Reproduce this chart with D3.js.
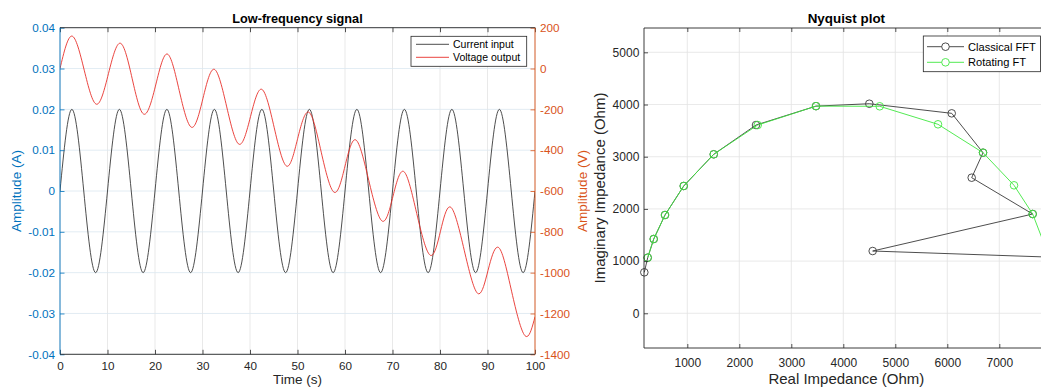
<!DOCTYPE html>
<html>
<head>
<meta charset="utf-8">
<script src="https://cdn.jsdelivr.net/npm/d3@7"></script>
<style>
  html, body { margin: 0; padding: 0; background: #fff; }
  svg { display: block; font-family: "Liberation Sans", Arial, Helvetica, sans-serif; }
</style>
</head>
<body>
<svg id="chart" width="1041" height="387"></svg>
<script>
// ---------- Data: left chart (Low-frequency signal) ----------
const timeCurrent = [0, 2.5, 5, 7.5, 10, 12.5, 15, 17.5, 20, 22.5, 25, 27.5, 30, 32.5, 35, 37.5, 40, 42.5, 45, 47.5,
  50, 52.5, 55, 57.5, 60, 62.5, 65, 67.5, 70, 72.5, 75, 77.5, 80, 82.5, 85, 87.5, 90, 92.5, 95, 97.5, 100];
const currentInput = [0, 0.02, 0, -0.02, 0, 0.02, 0, -0.02, 0, 0.02, 0, -0.02, 0, 0.02, 0, -0.02, 0, 0.02, 0, -0.02,
  0, 0.02, 0, -0.02, 0, 0.02, 0, -0.02, 0, 0.02, 0, -0.02, 0, 0.02, 0, -0.02, 0, 0.02, 0, -0.02, 0];
const timeVoltage = [0, 2.5, 5.1, 7.7, 10.2, 12.7, 15.2, 17.7, 20.2, 22.6, 25.1, 27.7, 30.1, 32.5, 35.1, 37.7, 40.1, 42.5,
  45.1, 47.7, 50.0, 52.4, 55.0, 57.7, 60.0, 62.3, 65.0, 67.8, 70.1, 72.4, 75.1, 77.9, 80.1, 82.3, 85.1, 87.9, 90.1, 92.4,
  95.1, 97.9, 100];
const voltageOutput = [0, 159, -8, -175, -25, 124, -50, -224, -76, 71, -108, -288, -146, -4, -188, -371, -236, -102,
  -290, -478, -346, -214, -410, -606, -478, -350, -548, -747, -626, -505, -710, -914, -797, -680, -890, -1101, -990, -878,
  -1094, -1309, -1216];
const timeTicks = [0, 10, 20, 30, 40, 50, 60, 70, 80, 90, 100];
const ampTicks = [-0.04, -0.03, -0.02, -0.01, 0, 0.01, 0.02, 0.03, 0.04];
const voltTicks = [-1400, -1200, -1000, -800, -600, -400, -200, 0, 200];
const leftSeriesNames = ["Current input", "Voltage output"];

// ---------- Data: right chart (Nyquist plot) ----------
const classicalRe = [173, 238, 354, 571, 931, 1508, 2321, 3475, 4500, 6085, 6687, 6469, 7642, 4565, 8150];
const classicalIm = [785, 1065, 1423, 1883, 2439, 3046, 3607, 3969, 4015, 3831, 3077, 2598, 1902, 1193, 1070];
const rotatingRe = [238, 354, 571, 931, 1508, 2354, 3475, 4700, 5821, 6687, 7283, 7642, 7990];
const rotatingIm = [1065, 1423, 1883, 2439, 3046, 3607, 3969, 3966, 3621, 3077, 2452, 1902, 1000];
const reTicks = [1000, 2000, 3000, 4000, 5000, 6000, 7000];
const imTicks = [0, 1000, 2000, 3000, 4000, 5000];
const rightSeriesNames = ["Classical FFT", "Rotating FT"];

// ---------- Styles ----------
const AX = "#262626", BLUE = "#0072BD", ORANGE = "#D95319";
const GRID = "#e3e3e3", GRIDB = "#dbe7f0";
const C_BLACK = "#3a3a3a", C_RED = "#e8302a", C_GREEN = "#40e840";

const svg = d3.select("#chart");

function styleAxis(g, color, fontSize) {
  g.select(".domain").remove();
  g.selectAll(".tick line").attr("stroke", color).attr("stroke-width", 0.8);
  g.selectAll(".tick text").attr("fill", color).style("font-size", fontSize + "px").attr("font-family", "Liberation Sans, Arial, sans-serif");
}

// ================= LEFT CHART =================
{
  const L = 60, R = 535, T = 27.7, B = 354.3;
  const x = d3.scaleLinear().domain([0, 100]).range([L, R]);
  const yL = d3.scaleLinear().domain([-0.04, 0.04]).range([B, T]);
  const yR = d3.scaleLinear().domain([-1400, 200]).range([B, T]);
  const g = svg.append("g");

  // grid
  g.append("g").selectAll("line").data(timeTicks).join("line")
    .attr("x1", d => x(d)).attr("x2", d => x(d)).attr("y1", T).attr("y2", B)
    .attr("stroke", GRID).attr("stroke-width", 0.8);
  g.append("g").selectAll("line").data(ampTicks).join("line")
    .attr("x1", L).attr("x2", R).attr("y1", d => yL(d)).attr("y2", d => yL(d))
    .attr("stroke", GRIDB).attr("stroke-width", 0.8);

  // clip
  svg.append("clipPath").attr("id", "clipL").append("rect").attr("x", L).attr("y", T).attr("width", R - L).attr("height", B - T);

  const cur = timeCurrent.map((t, i) => [t, currentInput[i]]);
  const vol = timeVoltage.map((t, i) => [t, voltageOutput[i]]);
  g.append("path").datum(cur).attr("clip-path", "url(#clipL)")
    .attr("d", d3.line().x(d => x(d[0])).y(d => yL(d[1])).curve(d3.curveNatural))
    .attr("fill", "none").attr("stroke", C_BLACK).attr("stroke-width", 0.9);
  g.append("path").datum(vol).attr("clip-path", "url(#clipL)")
    .attr("d", d3.line().x(d => x(d[0])).y(d => yR(d[1])).curve(d3.curveNatural))
    .attr("fill", "none").attr("stroke", C_RED).attr("stroke-width", 0.9);

  // axes
  const fs = 11.7;
  const ax = g.append("g").attr("transform", `translate(0,${B})`)
    .call(d3.axisBottom(x).tickValues(timeTicks).tickSize(-4.5).tickPadding(7).tickSizeOuter(0));
  styleAxis(ax, AX, fs);
  const axTop = g.append("g").attr("transform", `translate(0,${T})`)
    .call(d3.axisTop(x).tickValues(timeTicks).tickSize(-4.5).tickSizeOuter(0).tickFormat(""));
  styleAxis(axTop, AX, fs);
  const ayl = g.append("g").attr("transform", `translate(${L},0)`)
    .call(d3.axisLeft(yL).tickValues(ampTicks).tickSize(-4.5).tickPadding(5).tickSizeOuter(0)
      .tickFormat(d => d === 0 ? "0" : d3.format(".2f")(d).replace("−", "-")));
  styleAxis(ayl, BLUE, fs);
  const ayr = g.append("g").attr("transform", `translate(${R},0)`)
    .call(d3.axisRight(yR).tickValues(voltTicks).tickSize(-4.5).tickPadding(5).tickSizeOuter(0)
      .tickFormat(d => String(d)));
  styleAxis(ayr, ORANGE, fs);

  g.append("line").attr("x1", L).attr("x2", R).attr("y1", B).attr("y2", B).attr("stroke", AX).attr("stroke-width", 0.9);
  g.append("line").attr("x1", L).attr("x2", R).attr("y1", T).attr("y2", T).attr("stroke", AX).attr("stroke-width", 0.9);
  g.append("line").attr("x1", L).attr("x2", L).attr("y1", T).attr("y2", B).attr("stroke", BLUE).attr("stroke-width", 0.9);
  g.append("line").attr("x1", R).attr("x2", R).attr("y1", T).attr("y2", B).attr("stroke", ORANGE).attr("stroke-width", 0.9);

  // titles / labels
  g.append("text").attr("x", (L + R) / 2).attr("y", 22.7).attr("text-anchor", "middle")
    .attr("font-weight", "bold").style("font-size", "12.7px").attr("fill", "#000").text("Low-frequency signal");
  g.append("text").attr("x", (L + R) / 2).attr("y", 383.8).attr("text-anchor", "middle")
    .style("font-size", "13.5px").attr("fill", AX).text("Time (s)");
  g.append("text").attr("transform", `translate(21,${(T + B) / 2}) rotate(-90)`).attr("text-anchor", "middle")
    .style("font-size", "13.5px").attr("fill", BLUE).text("Amplitude (A)");
  g.append("text").attr("transform", `translate(587,${(T + B) / 2}) rotate(-90)`).attr("text-anchor", "middle")
    .style("font-size", "13.5px").attr("fill", ORANGE).text("Amplitude (V)");

  // legend
  const lg = g.append("g");
  lg.append("rect").attr("x", 411).attr("y", 36.3).attr("width", 115.7).attr("height", 30)
    .attr("fill", "#fff").attr("stroke", AX).attr("stroke-width", 0.8);
  const colsL = [C_BLACK, C_RED];
  leftSeriesNames.forEach((name, i) => {
    const yy = 44.3 + i * 13;
    lg.append("line").attr("x1", 416).attr("x2", 449).attr("y1", yy).attr("y2", yy)
      .attr("stroke", colsL[i]).attr("stroke-width", 0.9);
    lg.append("text").attr("x", 453).attr("y", yy + 3.8).style("font-size", "10.5px").attr("fill", "#000").text(name);
  });
}

// ================= RIGHT CHART =================
{
  const L = 644, R = 1048.7, T = 28, B = 348;
  const x = d3.scaleLinear().domain([167, 7950]).range([L, R]);
  const y = d3.scaleLinear().domain([-665, 5466]).range([B, T]);
  const g = svg.append("g");

  g.append("g").selectAll("line").data(reTicks).join("line")
    .attr("x1", d => x(d)).attr("x2", d => x(d)).attr("y1", T).attr("y2", B)
    .attr("stroke", GRID).attr("stroke-width", 0.8);
  g.append("g").selectAll("line").data(imTicks).join("line")
    .attr("x1", L).attr("x2", R).attr("y1", d => y(d)).attr("y2", d => y(d))
    .attr("stroke", GRID).attr("stroke-width", 0.8);

  svg.append("clipPath").attr("id", "clipR").append("rect").attr("x", L - 5).attr("y", T).attr("width", R - L + 10).attr("height", B - T);

  const cls = classicalRe.map((v, i) => [v, classicalIm[i]]);
  const rot = rotatingRe.map((v, i) => [v, rotatingIm[i]]);
  const line = d3.line().x(d => x(d[0])).y(d => y(d[1]));

  const series = [[cls, C_BLACK], [rot, C_GREEN]];
  series.forEach(([data, col]) => {
    const sg = g.append("g").attr("clip-path", "url(#clipR)");
    sg.append("path").datum(data).attr("d", line).attr("fill", "none").attr("stroke", col).attr("stroke-width", 0.9);
    sg.selectAll("circle").data(data).join("circle")
      .attr("cx", d => x(d[0])).attr("cy", d => y(d[1])).attr("r", 3.8)
      .attr("fill", "none").attr("stroke", col).attr("stroke-width", 0.9);
  });

  const fs = 12;
  const ax = g.append("g").attr("transform", `translate(0,${B})`)
    .call(d3.axisBottom(x).tickValues(reTicks).tickSize(-4).tickPadding(10).tickSizeOuter(0).tickFormat(d3.format("d")));
  styleAxis(ax, AX, fs);
  const axTop = g.append("g").attr("transform", `translate(0,${T})`)
    .call(d3.axisTop(x).tickValues(reTicks).tickSize(-4).tickSizeOuter(0).tickFormat(""));
  styleAxis(axTop, AX, fs);
  const ay = g.append("g").attr("transform", `translate(${L},0)`)
    .call(d3.axisLeft(y).tickValues(imTicks).tickSize(-4).tickPadding(4.7).tickSizeOuter(0).tickFormat(d3.format("d")));
  styleAxis(ay, AX, fs);

  g.append("line").attr("x1", L).attr("x2", R).attr("y1", B).attr("y2", B).attr("stroke", AX).attr("stroke-width", 0.9);
  g.append("line").attr("x1", L).attr("x2", R).attr("y1", T).attr("y2", T).attr("stroke", AX).attr("stroke-width", 0.9);
  g.append("line").attr("x1", L).attr("x2", L).attr("y1", T).attr("y2", B).attr("stroke", AX).attr("stroke-width", 0.9);
  g.append("line").attr("x1", R).attr("x2", R).attr("y1", T).attr("y2", B).attr("stroke", AX).attr("stroke-width", 0.9);

  g.append("text").attr("x", (L + R) / 2).attr("y", 22.7).attr("text-anchor", "middle")
    .attr("font-weight", "bold").style("font-size", "13.4px").attr("fill", "#000").text("Nyquist plot");
  g.append("text").attr("x", (L + R) / 2).attr("y", 383.6).attr("text-anchor", "middle")
    .style("font-size", "15px").attr("fill", AX).text("Real Impedance (Ohm)");
  g.append("text").attr("transform", `translate(604.5,${(T + B) / 2}) rotate(-90)`).attr("text-anchor", "middle")
    .style("font-size", "15px").attr("fill", AX).text("Imaginary Impedance (Ohm)");

  const lg = g.append("g");
  lg.append("rect").attr("x", 923.3).attr("y", 36).attr("width", 117.2).attr("height", 35.7)
    .attr("fill", "#fff").attr("stroke", AX).attr("stroke-width", 0.8);
  const colsR = [C_BLACK, C_GREEN];
  rightSeriesNames.forEach((name, i) => {
    const yy = 46.7 + i * 15.6;
    lg.append("line").attr("x1", 927).attr("x2", 964).attr("y1", yy).attr("y2", yy)
      .attr("stroke", colsR[i]).attr("stroke-width", 0.9);
    lg.append("circle").attr("cx", 945.5).attr("cy", yy).attr("r", 3.8)
      .attr("fill", "#fff").attr("stroke", colsR[i]).attr("stroke-width", 0.9);
    lg.append("text").attr("x", 968).attr("y", yy + 4).style("font-size", "11.1px").attr("fill", "#000").text(name);
  });
}
</script>
</body>
</html>
